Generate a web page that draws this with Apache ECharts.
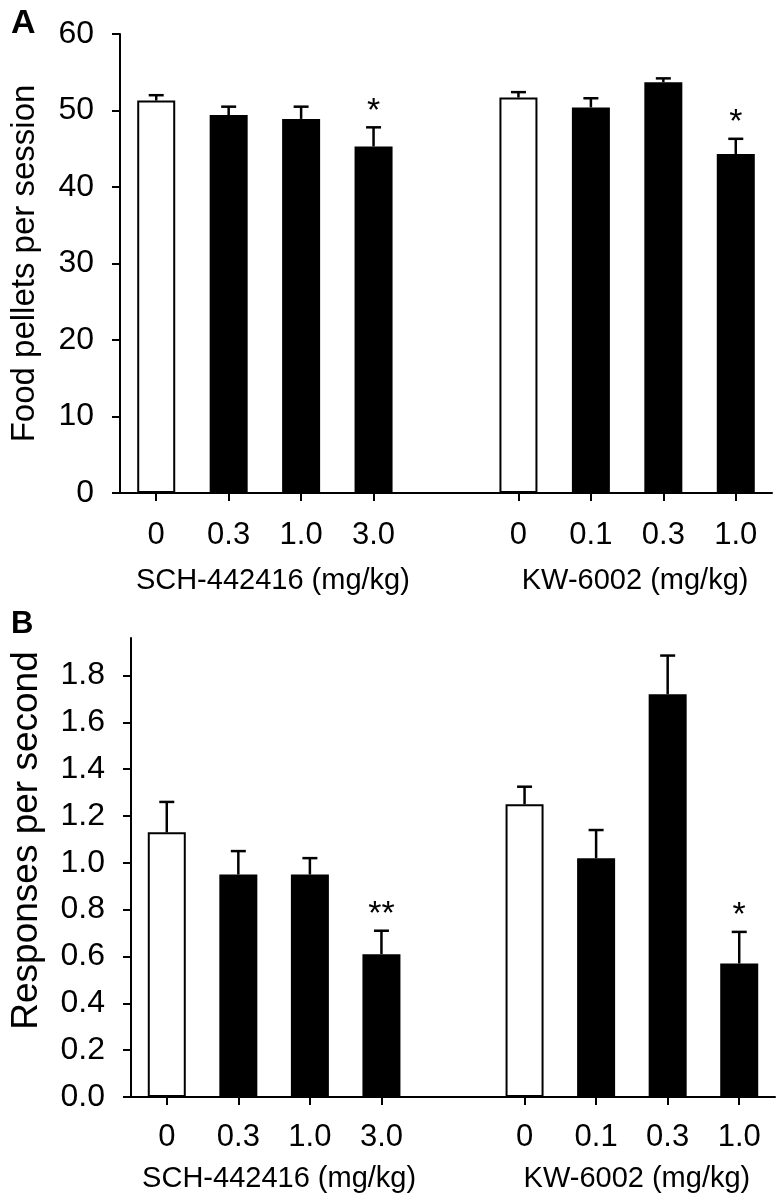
<!DOCTYPE html>
<html>
<head>
<meta charset="utf-8">
<script src="https://cdn.jsdelivr.net/npm/echarts@6/dist/echarts.min.js"></script>
<style>
html,body{margin:0;padding:0;background:#fff;}
#chart{width:777px;height:1199px;}
</style>
</head>
<body>
<div id="chart"></div>
<script>
// ---- Data ----
const groupNames = ['SCH-442416 (mg/kg)', 'KW-6002 (mg/kg)'];
const dosesSCH = ['0', '0.3', '1.0', '3.0'];
const dosesKW = ['0', '0.1', '0.3', '1.0'];

// Panel A: food pellets per session (mean, SEM)
const pelletsSCH = [51.3, 49.4, 48.9, 45.3];
const pelletsSCHErr = [0.7, 1.1, 1.6, 2.5];
const pelletsKW = [51.7, 50.4, 53.7, 44.3];
const pelletsKWErr = [0.7, 1.2, 0.5, 2.0];
const pelletsSigSCH = ['', '', '', '*'];
const pelletsSigKW = ['', '', '', '*'];

// Panel B: responses per second (mean, SEM)
const respSCH = [1.13, 0.95, 0.95, 0.61];
const respSCHErr = [0.13, 0.10, 0.07, 0.10];
const respKW = [1.25, 1.02, 1.72, 0.57];
const respKWErr = [0.075, 0.12, 0.165, 0.135];
const respSigSCH = ['', '', '', '**'];
const respSigKW = ['', '', '', '*'];

const yTicksB = [0, 0.2, 0.4, 0.6, 0.8, 1.0, 1.2, 1.4, 1.6, 1.8];

// ---- Build ----
const categories = [...dosesSCH, '', ...dosesKW];
const gapIndex = dosesSCH.length;
function combine(a, b) { return [...a, null, ...b]; }

const FONT = 'Liberation Sans, Arial, Helvetica, sans-serif';

function barSeries(values, gi) {
  return {
    type: 'bar',
    xAxisIndex: gi * 2,
    yAxisIndex: gi,
    barWidth: 38,
    data: values,
    itemStyle: {
      color: function (p) { return categories[p.dataIndex] === '0' ? '#ffffff' : '#000000'; },
      borderColor: '#000',
      borderWidth: 2
    },
    z: 2
  };
}

function errSeries(values, errs, sigs, gi) {
  const data = [];
  const sigList = [];
  values.forEach(function (v, i) {
    if (v !== null) { data.push([i, v, errs[i]]); sigList.push(sigs[i]); }
  });
  return {
    type: 'custom',
    xAxisIndex: gi * 2,
    yAxisIndex: gi,
    data: data,
    encode: { x: 0, y: 1 },
    z: 3,
    clip: false,
    renderItem: function (params, api) {
      const d = data[params.dataIndex];
      const x = d[0], v = d[1], e = d[2];
      const sig = sigList[params.dataIndex];
      const p0 = api.coord([x, v]);
      const p1 = api.coord([x, v + e]);
      const half = 7.5;
      const children = [
        { type: 'line', shape: { x1: p0[0], y1: p0[1], x2: p1[0], y2: p1[1] },
          style: { stroke: '#000', lineWidth: 2.5 } },
        { type: 'line', shape: { x1: p1[0] - half, y1: p1[1], x2: p1[0] + half, y2: p1[1] },
          style: { stroke: '#000', lineWidth: 2.5 } }
      ];
      if (sig) {
        children.push({ type: 'text', style: {
          text: sig, x: p1[0], y: p1[1] + 1, align: 'center', verticalAlign: 'bottom',
          font: '34px ' + FONT, fill: '#000' } });
      }
      return { type: 'group', children: children };
    }
  };
}

function catAxis(gi, labelMargin) {
  return {
    type: 'category',
    gridIndex: gi,
    data: categories,
    axisLine: { show: true, onZero: false, lineStyle: { color: '#000', width: 2 } },
    axisTick: { show: true, alignWithLabel: true, length: 8,
      interval: function (idx) { return idx !== gapIndex; },
      lineStyle: { color: '#000', width: 2 } },
    axisLabel: { interval: 0, fontSize: 31, color: '#000', fontFamily: FONT, margin: labelMargin },
    splitLine: { show: false }
  };
}

function groupAxis(gi, margin, shift) {
  return {
    type: 'value',
    gridIndex: gi,
    position: 'bottom',
    min: -0.5,
    max: categories.length - 0.5,
    axisLine: { show: false, onZero: false },
    axisTick: { show: false },
    splitLine: { show: false },
    axisLabel: {
      customValues: [(dosesSCH.length - 1) / 2, gapIndex + 1 + (dosesKW.length - 1) / 2],
      formatter: function (v) { return v < gapIndex ? groupNames[0] : groupNames[1]; },
      fontSize: 29, color: '#000', fontFamily: FONT, margin: margin,
      padding: [0, 0, 0, shift]
    }
  };
}

const option = {
  backgroundColor: '#ffffff',
  animation: false,
  title: [
    { text: 'A', left: 6, top: 2, textStyle: { fontSize: 34, fontWeight: 'bold', color: '#000', fontFamily: FONT } },
    { text: 'B', left: 6, top: 604, textStyle: { fontSize: 31, fontWeight: 'bold', color: '#000', fontFamily: FONT } }
  ],
  grid: [
    { left: 115, right: 5, top: 34, height: 459 },
    { left: 117, right: 2, top: 638, height: 459 }
  ],
  xAxis: [
    catAxis(0, 27),
    groupAxis(0, 73, 16),
    catAxis(1, 25),
    groupAxis(1, 67, 10)
  ],
  yAxis: [
    {
      type: 'value', gridIndex: 0, min: 0, max: 60, interval: 10,
      axisLine: { show: true, onZero: false, lineStyle: { color: '#000', width: 2 } },
      axisTick: { show: true, length: 8, lineStyle: { color: '#000', width: 2 } },
      axisLabel: { fontSize: 32, color: '#000', fontFamily: FONT, margin: 26 },
      splitLine: { show: false },
      name: 'Food pellets per session', nameLocation: 'middle', nameGap: 79,
      nameTextStyle: { fontSize: 33, color: '#000', fontFamily: FONT }
    },
    {
      type: 'value', gridIndex: 1, min: 0, max: 1.96,
      axisLine: { show: true, onZero: false, lineStyle: { color: '#000', width: 2 } },
      axisTick: { show: true, length: 8, customValues: yTicksB, lineStyle: { color: '#000', width: 2 } },
      axisLabel: { fontSize: 32, color: '#000', fontFamily: FONT, margin: 26, customValues: yTicksB,
        formatter: function (v) { return v.toFixed(1); } },
      splitLine: { show: false },
      name: 'Responses per second', nameLocation: 'middle', nameGap: 86,
      nameTextStyle: { fontSize: 37, color: '#000', fontFamily: FONT, padding: [0, 0, 0, 54] }
    }
  ],
  series: [
    barSeries(combine(pelletsSCH, pelletsKW), 0),
    errSeries(combine(pelletsSCH, pelletsKW), combine(pelletsSCHErr, pelletsKWErr), combine(pelletsSigSCH, pelletsSigKW), 0),
    barSeries(combine(respSCH, respKW), 1),
    errSeries(combine(respSCH, respKW), combine(respSCHErr, respKWErr), combine(respSigSCH, respSigKW), 1)
  ]
};

const chart = echarts.init(document.getElementById('chart'), null, { renderer: 'canvas' });
chart.setOption(option);
</script>
</body>
</html>
